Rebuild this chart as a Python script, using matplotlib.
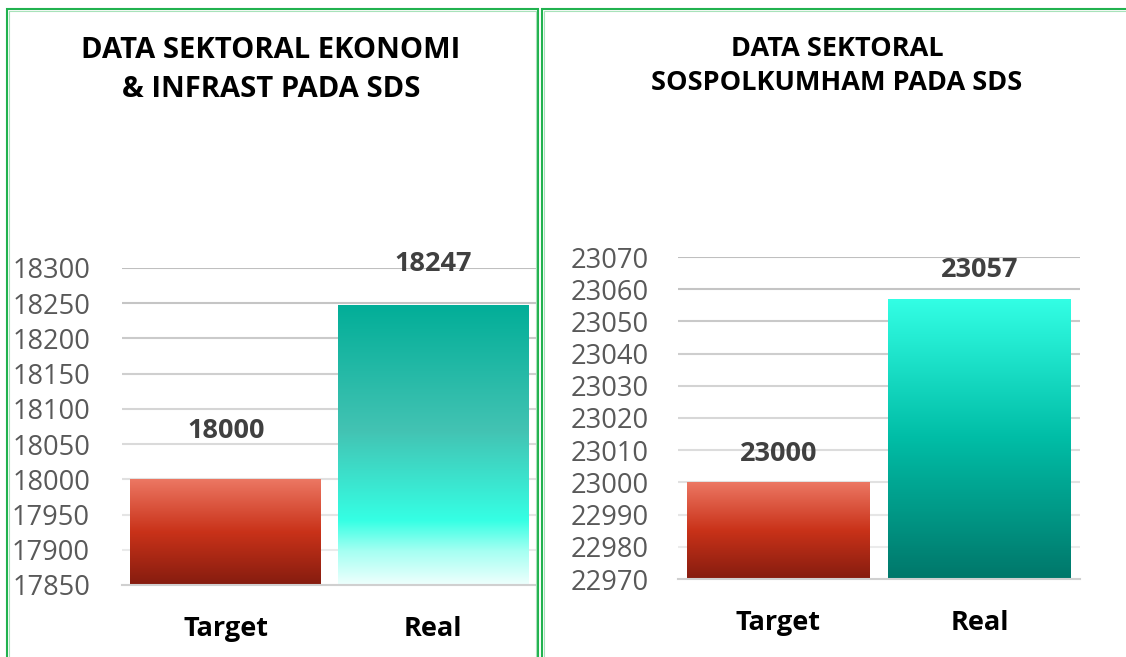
import numpy as np
import matplotlib
matplotlib.use("Agg")
import matplotlib.pyplot as plt
from matplotlib.colors import LinearSegmentedColormap
from matplotlib.patches import Rectangle

# ---------------- data ----------------
categories = ["Target", "Real"]
left_title = "DATA SEKTORAL EKONOMI\n& INFRAST PADA SDS"
left_values = [18000, 18247]
left_ticks = [17850, 17900, 17950, 18000, 18050, 18100, 18150, 18200, 18250, 18300]
right_title = "DATA SEKTORAL\nSOSPOLKUMHAM PADA SDS"
right_values = [23000, 23057]
right_ticks = [22970, 22980, 22990, 23000, 23010, 23020, 23030, 23040, 23050, 23060, 23070]

# ---------------- style ----------------
FONT = "Open Sans"
W, H = 1126, 657
fig = plt.figure(figsize=(W / 100, H / 100), dpi=100)
fig.patch.set_facecolor("white")

def px_rect(x0, y0, x1, y1):
    return [x0 / W, 1 - y1 / H, (x1 - x0) / W, (y1 - y0) / H]

red_cmap = LinearSegmentedColormap.from_list(
    "red", [(0, "#851C0F"), (0.5, "#C93219"), (1, "#EC7763")])
left_real_cmap = LinearSegmentedColormap.from_list(
    "lr", [(0, "#EEFFFD"), (0.12, "#A5FFF2"), (0.23, "#35FFE4"),
           (0.55, "#43C3B3"), (1, "#02AE98")])
right_real_cmap = LinearSegmentedColormap.from_list(
    "rr", [(0, "#00776A"), (0.5, "#00BDA6"), (1, "#33FFE5")])

def panel(rect, values, ticks, cmaps, label_offsets, ypad, width):
    ax = fig.add_axes(rect)
    ax.set_xlim(-0.5, len(categories) - 0.5)
    ax.set_ylim(ticks[0], ticks[-1])
    bars = ax.bar(range(len(categories)), [v - ticks[0] for v in values],
                  bottom=ticks[0], width=width, color="none", zorder=3)
    grad = np.linspace(0, 1, 256).reshape(-1, 1)
    for b, cm in zip(bars, cmaps):
        x, y = b.get_x(), b.get_y()
        w, h = b.get_width(), b.get_height()
        im = ax.imshow(grad, cmap=cm, origin="lower", aspect="auto",
                       extent=[x, x + w, y, y + h], zorder=2)
        im.set_clip_path(b)
    ax.set_xlim(-0.5, len(categories) - 0.5)
    ax.set_ylim(ticks[0], ticks[-1])
    for i, (v, off) in enumerate(zip(values, label_offsets)):
        ax.annotate(str(v), (i, v), xytext=(0, off), textcoords="offset pixels",
                    ha="center", va="center", fontsize=19.5, fontweight="bold",
                    family=FONT, color="#404040", annotation_clip=False)
    ax.set_yticks(ticks)
    ax.set_yticklabels([str(t) for t in ticks], family=FONT, fontsize=19.6,
                       color="#595959")
    ax.set_xticks(range(len(categories)))
    ax.set_xticklabels(categories, family=FONT, fontsize=19.5,
                       fontweight="bold", color="black")
    ax.tick_params(axis="y", length=0, pad=ypad)
    ax.tick_params(axis="x", length=0, pad=22.5)
    for s in ["top", "right", "left"]:
        ax.spines[s].set_visible(False)
    ax.spines["bottom"].set_color("#D0D0D0")
    ax.spines["bottom"].set_linewidth(1.5)
    ax.spines["bottom"].set_zorder(4)
    ax.yaxis.grid(True, linewidth=1.5, zorder=0)
    ax.set_axisbelow(True)
    gl = ax.get_ygridlines()
    n = len(gl)
    for k, g in enumerate(gl):
        frac = k / max(n - 1, 1)
        c = 0.94 - 0.19 * frac
        g.set_color((c, c, c))
    return ax

axL = panel(px_rect(122, 268, 537, 585), left_values, left_ticks,
            [red_cmap, left_real_cmap], [48, 41], 23, 0.92)
axR = panel(px_rect(678, 257, 1080, 579), right_values, right_ticks,
            [red_cmap, right_real_cmap], [28, 29], 21, 0.91)

fig.text(271 / W, 1 - 70 / H, left_title, ha="center", va="center",
         family=FONT, fontsize=21, fontweight="bold", color="black",
         linespacing=1.42)
fig.text(837 / W, 1 - 66 / H, right_title, ha="center", va="center",
         family=FONT, fontsize=19.5, fontweight="bold", color="black",
         linespacing=1.45)

# panel borders (double green lines)
for (x0, y0, x1, y1) in [(7, 9, 538, 700), (542, 9, 1160, 700)]:
    fig.patches.append(Rectangle((x0 / W, 1 - y1 / H), (x1 - x0) / W,
                                 (y1 - y0) / H, transform=fig.transFigure,
                                 fill=False, edgecolor="#21B24F", linewidth=1.5,
                                 zorder=10))
    fig.patches.append(Rectangle(((x0 + 2) / W, 1 - (y1 - 2) / H),
                                 (x1 - x0 - 4) / W, (y1 - y0 - 4) / H,
                                 transform=fig.transFigure, fill=False,
                                 edgecolor="#A8E2BA", linewidth=0.8, zorder=10))

fig.savefig("out.png", dpi=100)
